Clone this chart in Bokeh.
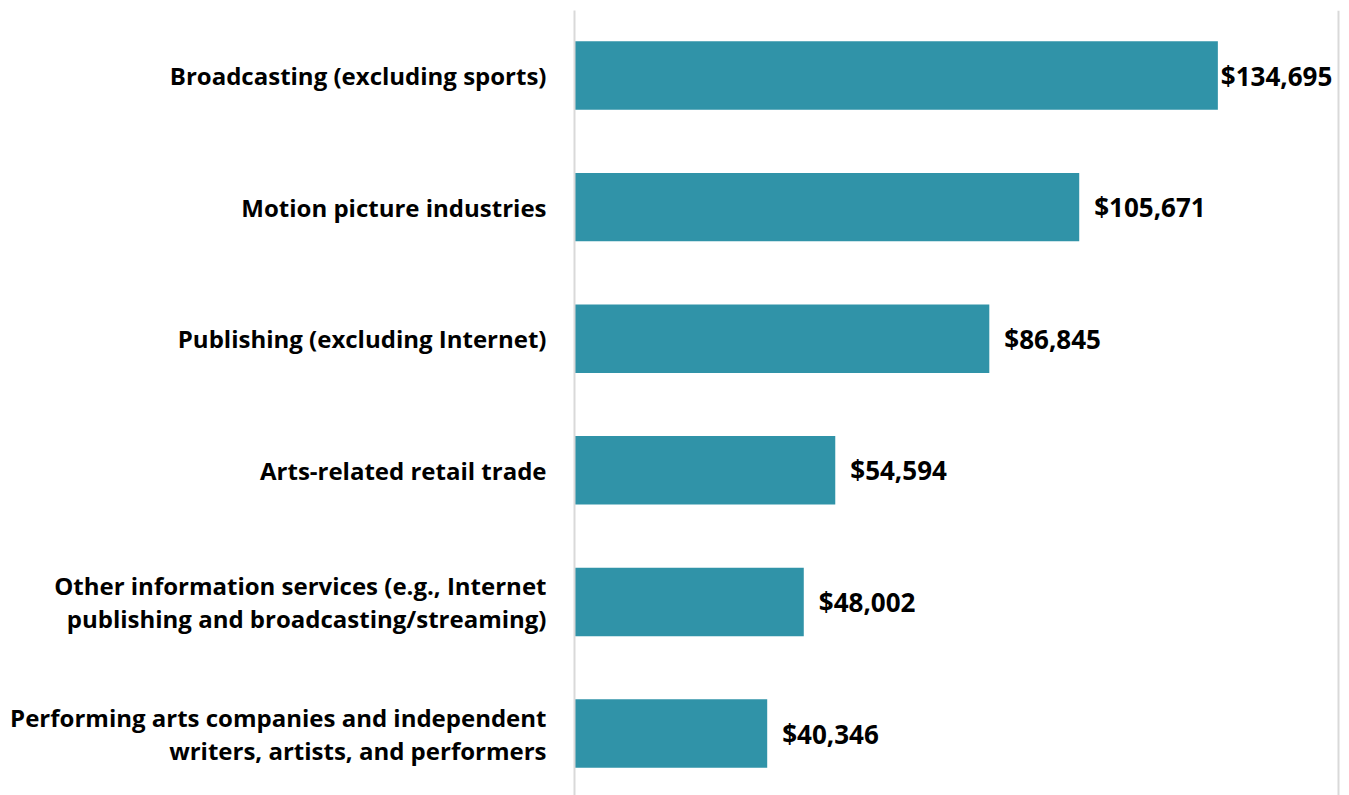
from bokeh.plotting import figure
from bokeh.models import ColumnDataSource, Range1d, FixedTicker
from bokeh.core.properties import value
from bokeh.embed import file_html
from bokeh.resources import INLINE

categories = [
    "Broadcasting (excluding sports)",
    "Motion picture industries",
    "Publishing (excluding Internet)",
    "Arts-related retail trade",
    "Other information services (e.g., Internet\npublishing and broadcasting/streaming)",
    "Performing arts companies and independent\nwriters, artists, and performers",
]
values = [134695, 105671, 86845, 54594, 48002, 40346]

positions = list(range(len(categories)))
labels = ["${:,}".format(v) for v in values]
vmax = max(values)
offsets = [3 if v == vmax else 15 for v in values]

src = ColumnDataSource(dict(pos=positions, val=values, lbl=labels, off=offsets))

FONT = "Open Sans"

p = figure(
    width=1345, height=795,
    x_range=Range1d(0, 161000),
    y_range=Range1d(5.471, -0.494),
    output_backend="svg", toolbar_location=None,
    min_border_left=574, min_border_right=2,
    min_border_top=10, min_border_bottom=0,
)

p.hbar(y="pos", left=0, right="val", height=0.52, source=src,
       fill_color="#3093A8", line_color=None)

p.text(x="val", y="pos", text="lbl", x_offset="off", source=src,
       text_baseline="middle", text_align="left",
       text_font=value(FONT), text_font_style="bold",
       text_font_size="26px", text_color="#000000")

p.xaxis.visible = False
p.xgrid.ticker = FixedTicker(ticks=[160000])
p.xgrid.grid_line_color = "#D9D9D9"
p.xgrid.grid_line_width = 2
p.ygrid.grid_line_color = None

ya = p.yaxis[0]
ya.ticker = FixedTicker(ticks=positions)
ya.major_label_overrides = {i: c for i, c in enumerate(categories)}
ya.major_tick_line_color = None
ya.minor_tick_line_color = None
ya.axis_line_color = "#D9D9D9"
ya.axis_line_width = 2
ya.major_label_standoff = 22
ya.major_label_text_font = FONT
ya.major_label_text_font_style = "bold"
ya.major_label_text_font_size = "24px"
ya.major_label_text_line_height = 1.0
ya.major_label_text_align = "center"
ya.major_label_text_color = "#000000"

p.outline_line_color = None
p.background_fill_color = "white"
p.border_fill_color = "white"

open("out.html", "w").write(file_html(p, INLINE))
